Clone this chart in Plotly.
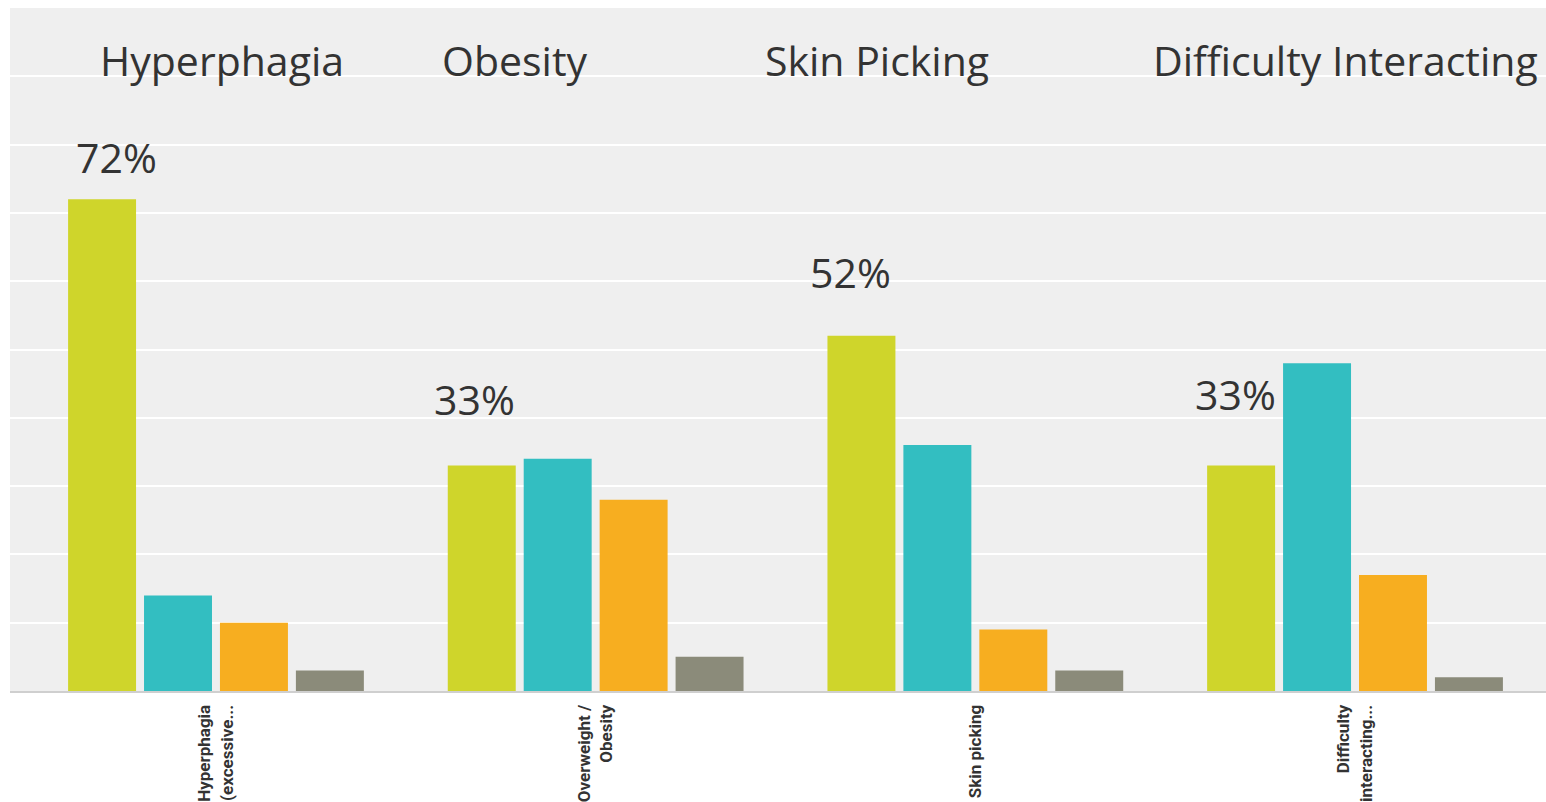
import plotly.graph_objects as go

categories = ["Hyperphagia<br>(excessive...", "Overweight /<br>Obesity", "Skin picking", "Difficulty<br>interacting..."]
series_names = ["Series A", "Series B", "Series C", "Series D"]
series_a = [72, 33, 52, 33]
series_b = [14, 34, 36, 48]
series_c = [10, 28, 9, 17]
series_d = [3, 5, 3, 2]
group_titles = ["Hyperphagia", "Obesity", "Skin Picking", "Difficulty Interacting"]
pct_labels = ["72%", "33%", "52%", "33%"]

colors = ["#cfd52b", "#33bec1", "#f7ae20", "#8b8b7a"]
values = [series_a, series_b, series_c, series_d]

fig = go.Figure()
for name, vals, col in zip(series_names, values, colors):
    fig.add_trace(go.Bar(x=categories, y=vals, name=name, marker=dict(color=col, line=dict(width=0)),
                         hoverinfo="y"))

# annotation placement (layout only)
title_x = [0.016, 0.787, 1.741, 2.976]
title_y = 92.4
pct_x = [-0.261, 0.682, 1.672, 2.686]
pct_y = [78.2, 42.7, 61.4, 43.5]

annotations = []
for t, x in zip(group_titles, title_x):
    annotations.append(dict(x=x, y=title_y, xref="x", yref="y", text=t, showarrow=False,
                            xanchor="center", yanchor="middle",
                            font=dict(family="Open Sans", size=41, color="#333333")))
for t, x, y in zip(pct_labels, pct_x, pct_y):
    annotations.append(dict(x=x, y=y, xref="x", yref="y", text=t, showarrow=False,
                            xanchor="center", yanchor="middle",
                            font=dict(family="Open Sans", size=41, color="#333333")))

fig.update_layout(
    width=1546, height=802,
    margin=dict(l=10, r=0, t=8, b=111),
    paper_bgcolor="white", plot_bgcolor="#efefef",
    barmode="group", bargap=0.2, bargroupgap=0.105,
    showlegend=False,
    annotations=annotations,
    xaxis=dict(range=[-0.5425, 3.503], tickangle=-90, showgrid=False, zeroline=False,
               showline=True, linecolor="#cfcfcf", linewidth=2,
               ticks="outside", ticklen=5, tickcolor="rgba(0,0,0,0)",
               tickfont=dict(family="Roboto", size=17, color="#333333", weight="bold")),
    yaxis=dict(range=[0, 100], dtick=10, showticklabels=False, showgrid=True,
               gridcolor="white", gridwidth=2, zeroline=False, showline=False),
)

fig.write_html("out.html", config={"displayModeBar": False},
               post_script="document.body.style.margin='0';document.body.style.overflow='hidden';")
